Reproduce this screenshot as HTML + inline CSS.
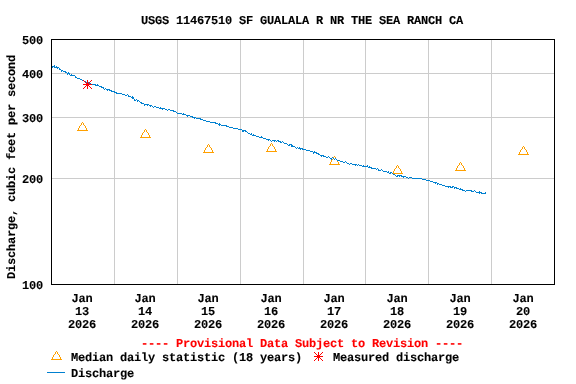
<!DOCTYPE html>
<html><head><meta charset="utf-8"><style>
html,body{margin:0;padding:0;background:#fff;}
svg{position:absolute;left:0;top:0;will-change:transform;}
text{text-rendering:geometricPrecision;font-family:"Liberation Mono",monospace;font-weight:bold;font-size:12.0px;letter-spacing:-0.201px;white-space:pre;stroke:currentColor;stroke-width:0.1px;}
</style></head><body>
<svg width="576" height="384" viewBox="0 0 576 384">
<g shape-rendering="crispEdges"><rect x="0" y="0" width="576" height="384" fill="#fff"/><line x1="114.5" y1="39" x2="114.5" y2="284" stroke="#CCCCCC"/><line x1="177.5" y1="39" x2="177.5" y2="284" stroke="#CCCCCC"/><line x1="240.5" y1="39" x2="240.5" y2="284" stroke="#CCCCCC"/><line x1="303.5" y1="39" x2="303.5" y2="284" stroke="#CCCCCC"/><line x1="365.5" y1="39" x2="365.5" y2="284" stroke="#CCCCCC"/><line x1="428.5" y1="39" x2="428.5" y2="284" stroke="#CCCCCC"/><line x1="491.5" y1="39" x2="491.5" y2="284" stroke="#CCCCCC"/><line x1="51" y1="178.5" x2="554" y2="178.5" stroke="#CCCCCC"/><line x1="51" y1="117.5" x2="554" y2="117.5" stroke="#CCCCCC"/><line x1="51" y1="73.5" x2="554" y2="73.5" stroke="#CCCCCC"/><g fill="#FFA000"><rect x="82" y="122" width="1" height="1"/><rect x="81" y="123" width="1" height="1"/><rect x="83" y="123" width="1" height="1"/><rect x="81" y="124" width="1" height="1"/><rect x="83" y="124" width="1" height="1"/><rect x="80" y="125" width="1" height="1"/><rect x="84" y="125" width="1" height="1"/><rect x="79" y="126" width="1" height="1"/><rect x="85" y="126" width="1" height="1"/><rect x="79" y="127" width="1" height="1"/><rect x="85" y="127" width="1" height="1"/><rect x="78" y="128" width="1" height="1"/><rect x="86" y="128" width="1" height="1"/><rect x="78" y="129" width="1" height="1"/><rect x="86" y="129" width="1" height="1"/><rect x="77" y="130" width="11" height="1"/></g><g fill="#FFA000"><rect x="145" y="129" width="1" height="1"/><rect x="144" y="130" width="1" height="1"/><rect x="146" y="130" width="1" height="1"/><rect x="144" y="131" width="1" height="1"/><rect x="146" y="131" width="1" height="1"/><rect x="143" y="132" width="1" height="1"/><rect x="147" y="132" width="1" height="1"/><rect x="142" y="133" width="1" height="1"/><rect x="148" y="133" width="1" height="1"/><rect x="142" y="134" width="1" height="1"/><rect x="148" y="134" width="1" height="1"/><rect x="141" y="135" width="1" height="1"/><rect x="149" y="135" width="1" height="1"/><rect x="141" y="136" width="1" height="1"/><rect x="149" y="136" width="1" height="1"/><rect x="140" y="137" width="11" height="1"/></g><g fill="#FFA000"><rect x="208" y="144" width="1" height="1"/><rect x="207" y="145" width="1" height="1"/><rect x="209" y="145" width="1" height="1"/><rect x="207" y="146" width="1" height="1"/><rect x="209" y="146" width="1" height="1"/><rect x="206" y="147" width="1" height="1"/><rect x="210" y="147" width="1" height="1"/><rect x="205" y="148" width="1" height="1"/><rect x="211" y="148" width="1" height="1"/><rect x="205" y="149" width="1" height="1"/><rect x="211" y="149" width="1" height="1"/><rect x="204" y="150" width="1" height="1"/><rect x="212" y="150" width="1" height="1"/><rect x="204" y="151" width="1" height="1"/><rect x="212" y="151" width="1" height="1"/><rect x="203" y="152" width="11" height="1"/></g><g fill="#FFA000"><rect x="271" y="143" width="1" height="1"/><rect x="270" y="144" width="1" height="1"/><rect x="272" y="144" width="1" height="1"/><rect x="270" y="145" width="1" height="1"/><rect x="272" y="145" width="1" height="1"/><rect x="269" y="146" width="1" height="1"/><rect x="273" y="146" width="1" height="1"/><rect x="268" y="147" width="1" height="1"/><rect x="274" y="147" width="1" height="1"/><rect x="268" y="148" width="1" height="1"/><rect x="274" y="148" width="1" height="1"/><rect x="267" y="149" width="1" height="1"/><rect x="275" y="149" width="1" height="1"/><rect x="267" y="150" width="1" height="1"/><rect x="275" y="150" width="1" height="1"/><rect x="266" y="151" width="11" height="1"/></g><g fill="#FFA000"><rect x="334" y="156" width="1" height="1"/><rect x="333" y="157" width="1" height="1"/><rect x="335" y="157" width="1" height="1"/><rect x="333" y="158" width="1" height="1"/><rect x="335" y="158" width="1" height="1"/><rect x="332" y="159" width="1" height="1"/><rect x="336" y="159" width="1" height="1"/><rect x="331" y="160" width="1" height="1"/><rect x="337" y="160" width="1" height="1"/><rect x="331" y="161" width="1" height="1"/><rect x="337" y="161" width="1" height="1"/><rect x="330" y="162" width="1" height="1"/><rect x="338" y="162" width="1" height="1"/><rect x="330" y="163" width="1" height="1"/><rect x="338" y="163" width="1" height="1"/><rect x="329" y="164" width="11" height="1"/></g><g fill="#FFA000"><rect x="397" y="165" width="1" height="1"/><rect x="396" y="166" width="1" height="1"/><rect x="398" y="166" width="1" height="1"/><rect x="396" y="167" width="1" height="1"/><rect x="398" y="167" width="1" height="1"/><rect x="395" y="168" width="1" height="1"/><rect x="399" y="168" width="1" height="1"/><rect x="394" y="169" width="1" height="1"/><rect x="400" y="169" width="1" height="1"/><rect x="394" y="170" width="1" height="1"/><rect x="400" y="170" width="1" height="1"/><rect x="393" y="171" width="1" height="1"/><rect x="401" y="171" width="1" height="1"/><rect x="393" y="172" width="1" height="1"/><rect x="401" y="172" width="1" height="1"/><rect x="392" y="173" width="11" height="1"/></g><g fill="#FFA000"><rect x="460" y="162" width="1" height="1"/><rect x="459" y="163" width="1" height="1"/><rect x="461" y="163" width="1" height="1"/><rect x="459" y="164" width="1" height="1"/><rect x="461" y="164" width="1" height="1"/><rect x="458" y="165" width="1" height="1"/><rect x="462" y="165" width="1" height="1"/><rect x="457" y="166" width="1" height="1"/><rect x="463" y="166" width="1" height="1"/><rect x="457" y="167" width="1" height="1"/><rect x="463" y="167" width="1" height="1"/><rect x="456" y="168" width="1" height="1"/><rect x="464" y="168" width="1" height="1"/><rect x="456" y="169" width="1" height="1"/><rect x="464" y="169" width="1" height="1"/><rect x="455" y="170" width="11" height="1"/></g><g fill="#FFA000"><rect x="523" y="146" width="1" height="1"/><rect x="522" y="147" width="1" height="1"/><rect x="524" y="147" width="1" height="1"/><rect x="522" y="148" width="1" height="1"/><rect x="524" y="148" width="1" height="1"/><rect x="521" y="149" width="1" height="1"/><rect x="525" y="149" width="1" height="1"/><rect x="520" y="150" width="1" height="1"/><rect x="526" y="150" width="1" height="1"/><rect x="520" y="151" width="1" height="1"/><rect x="526" y="151" width="1" height="1"/><rect x="519" y="152" width="1" height="1"/><rect x="527" y="152" width="1" height="1"/><rect x="519" y="153" width="1" height="1"/><rect x="527" y="153" width="1" height="1"/><rect x="518" y="154" width="11" height="1"/></g><path d="M52 66h1v2h-1zM53 66h1v1h-1zM54 65h1v3h-1zM55 67h1v1h-1zM56 66h1v2h-1zM57 67h1v2h-1zM58 67h1v1h-1zM59 68h1v2h-1zM60 69h1v1h-1zM61 70h1v2h-1zM62 70h1v1h-1zM63 71h1v1h-1zM64 71h1v1h-1zM65 71h1v2h-1zM66 72h1v1h-1zM67 73h1v2h-1zM68 72h1v2h-1zM69 73h1v2h-1zM70 75h1v1h-1zM71 74h1v2h-1zM72 75h1v1h-1zM73 75h1v1h-1zM74 75h1v1h-1zM75 76h1v2h-1zM76 77h1v1h-1zM77 78h1v1h-1zM78 78h1v1h-1zM79 78h1v1h-1zM80 79h1v1h-1zM81 79h1v1h-1zM82 80h1v1h-1zM83 80h1v1h-1zM84 81h1v1h-1zM85 81h1v1h-1zM86 82h1v1h-1zM87 83h1v1h-1zM88 82h1v1h-1zM89 83h1v1h-1zM90 83h1v1h-1zM91 84h1v1h-1zM92 84h1v1h-1zM93 84h1v1h-1zM94 84h1v1h-1zM95 84h1v2h-1zM96 85h1v1h-1zM97 84h1v2h-1zM98 85h1v1h-1zM99 86h1v1h-1zM100 86h1v1h-1zM101 86h1v2h-1zM102 87h1v1h-1zM103 87h1v2h-1zM104 89h1v1h-1zM105 88h1v1h-1zM106 89h1v1h-1zM107 89h1v2h-1zM108 89h1v1h-1zM109 89h1v2h-1zM110 90h1v1h-1zM111 90h1v2h-1zM112 91h1v1h-1zM113 91h1v1h-1zM114 91h1v2h-1zM115 92h1v1h-1zM116 92h1v2h-1zM117 93h1v1h-1zM118 93h1v1h-1zM119 93h1v1h-1zM120 93h1v1h-1zM121 93h1v1h-1zM122 94h1v1h-1zM123 94h1v1h-1zM124 94h1v1h-1zM125 95h1v1h-1zM126 95h1v1h-1zM127 94h1v1h-1zM128 95h1v2h-1zM129 96h1v1h-1zM130 96h1v1h-1zM131 97h1v1h-1zM132 96h1v3h-1zM133 97h1v2h-1zM134 99h1v2h-1zM135 100h1v1h-1zM136 99h1v1h-1zM137 100h1v2h-1zM138 100h1v1h-1zM139 101h1v1h-1zM140 102h1v1h-1zM141 102h1v2h-1zM142 103h1v1h-1zM143 103h1v1h-1zM144 104h1v2h-1zM145 104h1v1h-1zM146 104h1v1h-1zM147 104h1v2h-1zM148 104h1v1h-1zM149 105h1v1h-1zM150 105h1v2h-1zM151 105h1v1h-1zM152 106h1v1h-1zM153 107h1v1h-1zM154 106h1v1h-1zM155 106h1v1h-1zM156 107h1v1h-1zM157 107h1v1h-1zM158 107h1v1h-1zM159 108h1v1h-1zM160 107h1v2h-1zM161 108h1v1h-1zM162 108h1v2h-1zM163 108h1v1h-1zM164 108h1v1h-1zM165 109h1v1h-1zM166 109h1v1h-1zM167 110h1v1h-1zM168 109h1v1h-1zM169 109h1v1h-1zM170 110h1v1h-1zM171 110h1v1h-1zM172 110h1v1h-1zM173 110h1v2h-1zM174 111h1v1h-1zM175 111h1v1h-1zM176 112h1v1h-1zM177 113h1v1h-1zM178 113h1v1h-1zM179 113h1v1h-1zM180 113h1v1h-1zM181 113h1v1h-1zM182 114h1v1h-1zM183 113h1v2h-1zM184 114h1v1h-1zM185 114h1v1h-1zM186 115h1v1h-1zM187 115h1v2h-1zM188 115h1v1h-1zM189 115h1v1h-1zM190 116h1v1h-1zM191 116h1v1h-1zM192 116h1v2h-1zM193 117h1v1h-1zM194 117h1v2h-1zM195 117h1v1h-1zM196 118h1v1h-1zM197 118h1v1h-1zM198 118h1v1h-1zM199 118h1v1h-1zM200 118h1v2h-1zM201 119h1v1h-1zM202 119h1v1h-1zM203 120h1v1h-1zM204 120h1v1h-1zM205 120h1v1h-1zM206 121h1v1h-1zM207 121h1v1h-1zM208 121h1v1h-1zM209 121h1v1h-1zM210 122h1v1h-1zM211 122h1v1h-1zM212 122h1v1h-1zM213 122h1v1h-1zM214 122h1v1h-1zM215 122h1v2h-1zM216 123h1v1h-1zM217 123h1v1h-1zM218 124h1v1h-1zM219 123h1v3h-1zM220 124h1v1h-1zM221 125h1v1h-1zM222 125h1v1h-1zM223 125h1v1h-1zM224 125h1v1h-1zM225 125h1v1h-1zM226 125h1v2h-1zM227 126h1v1h-1zM228 126h1v1h-1zM229 127h1v1h-1zM230 127h1v1h-1zM231 127h1v1h-1zM232 127h1v1h-1zM233 128h1v1h-1zM234 128h1v1h-1zM235 128h1v1h-1zM236 128h1v1h-1zM237 128h1v1h-1zM238 129h1v1h-1zM239 129h1v1h-1zM240 129h1v1h-1zM241 129h1v1h-1zM242 130h1v2h-1zM243 130h1v2h-1zM244 130h1v1h-1zM245 130h1v2h-1zM246 131h1v1h-1zM247 132h1v1h-1zM248 133h1v1h-1zM249 133h1v1h-1zM250 134h1v1h-1zM251 133h1v2h-1zM252 135h1v1h-1zM253 134h1v2h-1zM254 135h1v1h-1zM255 135h1v1h-1zM256 136h1v1h-1zM257 136h1v1h-1zM258 136h1v1h-1zM259 137h1v1h-1zM260 137h1v1h-1zM261 136h1v2h-1zM262 137h1v1h-1zM263 138h1v1h-1zM264 138h1v1h-1zM265 138h1v1h-1zM266 139h1v1h-1zM267 139h1v1h-1zM268 139h1v2h-1zM269 139h1v1h-1zM270 140h1v1h-1zM271 141h1v1h-1zM272 140h1v1h-1zM273 140h1v1h-1zM274 140h1v2h-1zM275 140h1v1h-1zM276 141h1v1h-1zM277 140h1v1h-1zM278 140h1v2h-1zM279 141h1v1h-1zM280 141h1v2h-1zM281 142h1v1h-1zM282 141h1v1h-1zM283 142h1v1h-1zM284 143h1v1h-1zM285 143h1v1h-1zM286 143h1v1h-1zM287 144h1v1h-1zM288 145h1v1h-1zM289 144h1v2h-1zM290 144h1v1h-1zM291 144h1v3h-1zM292 145h1v2h-1zM293 146h1v1h-1zM294 146h1v1h-1zM295 147h1v1h-1zM296 148h1v1h-1zM297 147h1v1h-1zM298 148h1v1h-1zM299 147h1v2h-1zM300 148h1v2h-1zM301 148h1v1h-1zM302 148h1v2h-1zM303 149h1v1h-1zM304 149h1v1h-1zM305 149h1v1h-1zM306 150h1v1h-1zM307 150h1v1h-1zM308 150h1v1h-1zM309 150h1v1h-1zM310 151h1v1h-1zM311 151h1v1h-1zM312 151h1v1h-1zM313 152h1v2h-1zM314 151h1v2h-1zM315 152h1v1h-1zM316 152h1v2h-1zM317 153h1v1h-1zM318 153h1v2h-1zM319 154h1v1h-1zM320 155h1v1h-1zM321 155h1v2h-1zM322 155h1v1h-1zM323 155h1v2h-1zM324 156h1v1h-1zM325 156h1v1h-1zM326 157h1v1h-1zM327 157h1v1h-1zM328 156h1v1h-1zM329 157h1v1h-1zM330 158h1v1h-1zM331 158h1v2h-1zM332 157h1v1h-1zM333 158h1v1h-1zM334 159h1v1h-1zM335 158h1v1h-1zM336 159h1v1h-1zM337 160h1v1h-1zM338 160h1v1h-1zM339 160h1v1h-1zM340 161h1v1h-1zM341 161h1v1h-1zM342 161h1v1h-1zM343 162h1v1h-1zM344 162h1v1h-1zM345 161h1v1h-1zM346 162h1v1h-1zM347 163h1v1h-1zM348 163h1v1h-1zM349 164h1v1h-1zM350 163h1v1h-1zM351 163h1v1h-1zM352 164h1v1h-1zM353 164h1v1h-1zM354 164h1v1h-1zM355 164h1v2h-1zM356 164h1v1h-1zM357 165h1v1h-1zM358 164h1v1h-1zM359 165h1v1h-1zM360 165h1v1h-1zM361 165h1v1h-1zM362 166h1v1h-1zM363 165h1v2h-1zM364 166h1v1h-1zM365 166h1v1h-1zM366 166h1v1h-1zM367 165h1v2h-1zM368 167h1v1h-1zM369 166h1v2h-1zM370 167h1v1h-1zM371 167h1v2h-1zM372 168h1v1h-1zM373 168h1v1h-1zM374 168h1v1h-1zM375 168h1v1h-1zM376 169h1v1h-1zM377 168h1v1h-1zM378 169h1v2h-1zM379 170h1v1h-1zM380 170h1v1h-1zM381 169h1v1h-1zM382 170h1v1h-1zM383 171h1v1h-1zM384 171h1v1h-1zM385 171h1v1h-1zM386 171h1v1h-1zM387 172h1v1h-1zM388 171h1v2h-1zM389 173h1v1h-1zM390 172h1v2h-1zM391 172h1v1h-1zM392 173h1v1h-1zM393 174h1v1h-1zM394 174h1v1h-1zM395 175h1v1h-1zM396 176h1v1h-1zM397 175h1v2h-1zM398 175h1v1h-1zM399 175h1v2h-1zM400 175h1v1h-1zM401 175h1v2h-1zM402 176h1v1h-1zM403 176h1v2h-1zM404 176h1v1h-1zM405 176h1v1h-1zM406 177h1v1h-1zM407 177h1v1h-1zM408 178h1v1h-1zM409 177h1v1h-1zM410 177h1v1h-1zM411 177h1v1h-1zM412 178h1v1h-1zM413 178h1v1h-1zM414 178h1v1h-1zM415 178h1v1h-1zM416 178h1v1h-1zM417 178h1v1h-1zM418 178h1v1h-1zM419 178h1v1h-1zM420 178h1v1h-1zM421 178h1v1h-1zM422 179h1v1h-1zM423 179h1v1h-1zM424 179h1v1h-1zM425 179h1v1h-1zM426 180h1v1h-1zM427 180h1v1h-1zM428 180h1v1h-1zM429 180h1v1h-1zM430 181h1v1h-1zM431 181h1v1h-1zM432 181h1v1h-1zM433 182h1v1h-1zM434 182h1v1h-1zM435 182h1v2h-1zM436 182h1v1h-1zM437 183h1v2h-1zM438 183h1v1h-1zM439 184h1v1h-1zM440 184h1v1h-1zM441 184h1v1h-1zM442 185h1v1h-1zM443 185h1v1h-1zM444 185h1v1h-1zM445 186h1v1h-1zM446 186h1v1h-1zM447 186h1v1h-1zM448 186h1v2h-1zM449 186h1v1h-1zM450 186h1v2h-1zM451 187h1v1h-1zM452 186h1v2h-1zM453 186h1v1h-1zM454 187h1v2h-1zM455 187h1v1h-1zM456 187h1v2h-1zM457 188h1v1h-1zM458 188h1v1h-1zM459 189h1v1h-1zM460 188h1v2h-1zM461 189h1v1h-1zM462 189h1v2h-1zM463 190h1v1h-1zM464 190h1v1h-1zM465 191h1v1h-1zM466 190h1v1h-1zM467 190h1v1h-1zM468 190h1v1h-1zM469 190h1v1h-1zM470 190h1v1h-1zM471 190h1v2h-1zM472 191h1v1h-1zM473 191h1v1h-1zM474 190h1v1h-1zM475 191h1v1h-1zM476 192h1v1h-1zM477 192h1v1h-1zM478 192h1v1h-1zM479 191h1v3h-1zM480 192h1v1h-1zM481 192h1v2h-1zM482 193h1v1h-1zM483 193h1v1h-1zM484 193h1v1h-1zM485 192h1v2h-1z" fill="#0080D0"/><g fill="#FF0000"><rect x="83" y="84" width="9" height="1"/><rect x="87" y="80" width="1" height="9"/><rect x="86" y="83" width="3" height="3"/><rect x="85" y="82" width="1" height="1"/><rect x="85" y="86" width="1" height="1"/><rect x="89" y="82" width="1" height="1"/><rect x="89" y="86" width="1" height="1"/><rect x="84" y="81" width="1" height="1"/><rect x="84" y="87" width="1" height="1"/><rect x="90" y="81" width="1" height="1"/><rect x="90" y="87" width="1" height="1"/><rect x="83" y="80" width="1" height="1"/><rect x="83" y="88" width="1" height="1"/><rect x="91" y="80" width="1" height="1"/><rect x="91" y="88" width="1" height="1"/></g><rect x="51.5" y="39.5" width="503" height="245" fill="none" stroke="#000" stroke-width="1"/><g fill="#FFA000"><rect x="56" y="351" width="1" height="1"/><rect x="55" y="352" width="1" height="1"/><rect x="57" y="352" width="1" height="1"/><rect x="55" y="353" width="1" height="1"/><rect x="57" y="353" width="1" height="1"/><rect x="54" y="354" width="1" height="1"/><rect x="58" y="354" width="1" height="1"/><rect x="53" y="355" width="1" height="1"/><rect x="59" y="355" width="1" height="1"/><rect x="53" y="356" width="1" height="1"/><rect x="59" y="356" width="1" height="1"/><rect x="52" y="357" width="1" height="1"/><rect x="60" y="357" width="1" height="1"/><rect x="52" y="358" width="1" height="1"/><rect x="60" y="358" width="1" height="1"/><rect x="51" y="359" width="11" height="1"/></g><g fill="#FF0000"><rect x="314" y="356" width="9" height="1"/><rect x="318" y="352" width="1" height="9"/><rect x="317" y="355" width="3" height="3"/><rect x="316" y="354" width="1" height="1"/><rect x="316" y="358" width="1" height="1"/><rect x="320" y="354" width="1" height="1"/><rect x="320" y="358" width="1" height="1"/><rect x="315" y="353" width="1" height="1"/><rect x="315" y="359" width="1" height="1"/><rect x="321" y="353" width="1" height="1"/><rect x="321" y="359" width="1" height="1"/><rect x="314" y="352" width="1" height="1"/><rect x="314" y="360" width="1" height="1"/><rect x="322" y="352" width="1" height="1"/><rect x="322" y="360" width="1" height="1"/></g><line x1="47" y1="372.5" x2="65" y2="372.5" stroke="#0080D0"/></g>
<g><text x="141" y="24" fill="#000" style="color:#000" text-anchor="start">USGS 11467510 SF GUALALA R NR THE SEA RANCH CA</text><text x="22" y="44" fill="#000" style="color:#000" text-anchor="start">500</text><text x="22" y="78" fill="#000" style="color:#000" text-anchor="start">400</text><text x="22" y="122" fill="#000" style="color:#000" text-anchor="start">300</text><text x="22" y="183" fill="#000" style="color:#000" text-anchor="start">200</text><text x="22" y="289" fill="#000" style="color:#000" text-anchor="start">100</text><text x="71.5" y="302" fill="#000" style="color:#000" text-anchor="start">Jan</text><text x="75" y="315" fill="#000" style="color:#000" text-anchor="start">13</text><text x="68" y="328" fill="#000" style="color:#000" text-anchor="start">2026</text><text x="134.5" y="302" fill="#000" style="color:#000" text-anchor="start">Jan</text><text x="138" y="315" fill="#000" style="color:#000" text-anchor="start">14</text><text x="131" y="328" fill="#000" style="color:#000" text-anchor="start">2026</text><text x="197.5" y="302" fill="#000" style="color:#000" text-anchor="start">Jan</text><text x="201" y="315" fill="#000" style="color:#000" text-anchor="start">15</text><text x="194" y="328" fill="#000" style="color:#000" text-anchor="start">2026</text><text x="260.5" y="302" fill="#000" style="color:#000" text-anchor="start">Jan</text><text x="264" y="315" fill="#000" style="color:#000" text-anchor="start">16</text><text x="257" y="328" fill="#000" style="color:#000" text-anchor="start">2026</text><text x="323.5" y="302" fill="#000" style="color:#000" text-anchor="start">Jan</text><text x="327" y="315" fill="#000" style="color:#000" text-anchor="start">17</text><text x="320" y="328" fill="#000" style="color:#000" text-anchor="start">2026</text><text x="386.5" y="302" fill="#000" style="color:#000" text-anchor="start">Jan</text><text x="390" y="315" fill="#000" style="color:#000" text-anchor="start">18</text><text x="383" y="328" fill="#000" style="color:#000" text-anchor="start">2026</text><text x="449.5" y="302" fill="#000" style="color:#000" text-anchor="start">Jan</text><text x="453" y="315" fill="#000" style="color:#000" text-anchor="start">19</text><text x="446" y="328" fill="#000" style="color:#000" text-anchor="start">2026</text><text x="512.5" y="302" fill="#000" style="color:#000" text-anchor="start">Jan</text><text x="516" y="315" fill="#000" style="color:#000" text-anchor="start">20</text><text x="509" y="328" fill="#000" style="color:#000" text-anchor="start">2026</text><text x="141" y="347" fill="#FF0000" style="color:#FF0000" text-anchor="start">---- Provisional Data Subject to Revision ----</text><text x="71" y="361" fill="#000" style="color:#000" text-anchor="start">Median daily statistic (18 years)</text><text x="333" y="361" fill="#000" style="color:#000" text-anchor="start">Measured discharge</text><text x="71" y="377" fill="#000" style="color:#000" text-anchor="start">Discharge</text><text x="0" y="0" transform="translate(15,279) rotate(-90)">Discharge, cubic feet per second</text></g>
</svg>
</body></html>
